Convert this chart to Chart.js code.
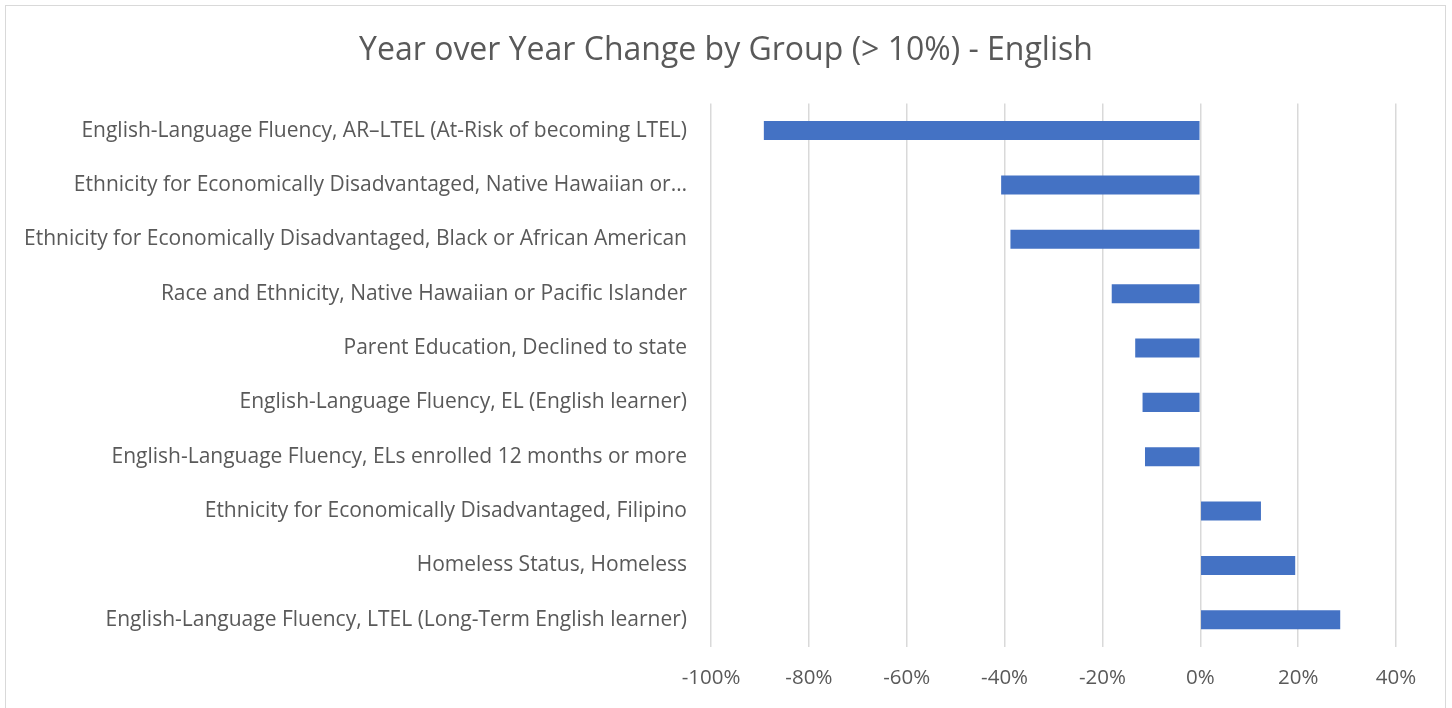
<!DOCTYPE html>
<html>
<head>
<meta charset="utf-8">
<script src="https://cdn.jsdelivr.net/npm/chart.js@4/dist/chart.umd.min.js"></script>
<style>
  html, body { margin: 0; padding: 0; background: #fff; }
  #wrap { position: relative; width: 1452px; height: 708px; overflow: hidden; }
  #frame { position: absolute; left: 5px; top: 5px; width: 1439px; height: 720px; border: 1px solid #d9d9d9; }
  canvas { position: absolute; left: 0; top: 0; }
</style>
</head>
<body>
<div id="wrap">
  <div id="frame"></div>
  <canvas id="yoyChart" width="1452" height="708"></canvas>
</div>
<script>
  // группы (сверху вниз) и изменение год к году, %
  const groups = [
    'English-Language Fluency, AR\u2013LTEL (At-Risk of becoming LTEL)',
    'Ethnicity for Economically Disadvantaged, Native Hawaiian or\u2026',
    'Ethnicity for Economically Disadvantaged, Black or African American',
    'Race and Ethnicity, Native Hawaiian or Pacific Islander',
    'Parent Education, Declined to state',
    'English-Language Fluency, EL (English learner)',
    'English-Language Fluency, ELs enrolled 12 months or more',
    'Ethnicity for Economically Disadvantaged, Filipino',
    'Homeless Status, Homeless',
    'English-Language Fluency, LTEL (Long-Term English learner)'
  ];
  const changePct = [-89.2, -40.7, -38.8, -18.1, -13.3, -11.8, -11.3, 12.4, 19.4, 28.6];
  const axisMin = -100;
  const axisMax = 40;
  const axisStep = 20;

  const FONT = "'Open Sans', 'Noto Sans', sans-serif";
  const GRAY = '#595959';

  const ctx = document.getElementById('yoyChart').getContext('2d');
  new Chart(ctx, {
    type: 'bar',
    data: {
      labels: groups,
      datasets: [{
        label: 'Change',
        data: changePct,
        backgroundColor: '#4472C4',
        categoryPercentage: 1,
        barPercentage: 0.35
      }]
    },
    options: {
      indexAxis: 'y',
      responsive: false,
      animation: false,
      layout: { padding: 0 },
      plugins: {
        legend: { display: false },
        tooltip: { enabled: false },
        title: {
          display: true,
          text: 'Year over Year Change by Group (> 10%) - English',
          color: GRAY,
          font: { family: FONT, size: 32, weight: 'normal', lineHeight: 1.2 },
          padding: { top: 32, bottom: 33 }
        }
      },
      scales: {
        x: {
          min: axisMin,
          max: axisMax,
          ticks: {
            stepSize: axisStep,
            color: GRAY,
            padding: 19,
            font: { family: FONT, size: 20.5 },
            callback: v => v + '%'
          },
          grid: { color: '#d9d9d9', lineWidth: 1.5, drawTicks: false },
          border: { display: false },
          afterFit: scale => { scale.height = 61; }
        },
        y: {
          ticks: {
            color: GRAY,
            padding: 24,
            autoSkip: false,
            font: { family: FONT, size: 21 }
          },
          grid: { display: false, drawTicks: false },
          border: { display: false },
          afterFit: scale => { scale.width = 711; }
        },
        // пустое место справа от области графика, чтобы заголовок был по центру
        yRight: {
          type: 'category',
          position: 'right',
          ticks: { display: false },
          grid: { display: false, drawTicks: false },
          border: { display: false },
          afterFit: scale => { scale.width = 56; }
        }
      }
    }
  });
</script>
</body>
</html>
